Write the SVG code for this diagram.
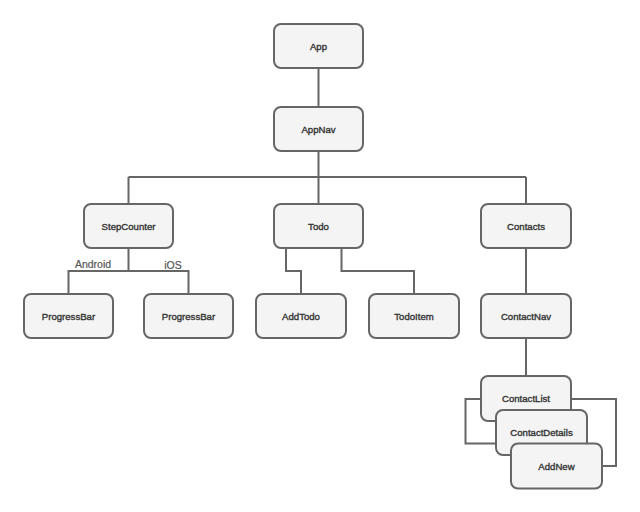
<svg xmlns="http://www.w3.org/2000/svg" width="640" height="512" viewBox="0 0 640 512">
<style>
.n rect{fill:#f4f4f4;stroke:#666;stroke-width:2}
.n text{font-family:"Liberation Sans",Arial,sans-serif;font-size:9.6px;fill:#333;stroke:#333;stroke-width:0.35;text-anchor:middle;dominant-baseline:central}
.c path{fill:none;stroke:#666;stroke-width:2}
.lbl{font-family:"Liberation Sans",Arial,sans-serif;font-size:10.5px;fill:#555;stroke:#555;stroke-width:0.2;text-anchor:middle}
</style>
<rect width="640" height="512" fill="#fff"/>
<g class="c">
<path d="M318.5 68V107"/>
<path d="M318.5 151V177M128.5 177H526M128.5 177V204M318.5 177V204M526 177V204"/>
<path d="M128.5 248V271M68.5 294V271H188.5V294"/>
<path d="M286 248V271H301V294"/>
<path d="M341.5 248V271H414V294"/>
<path d="M526 248V294"/>
<path d="M526 338V376"/>
<path d="M481 399H465.5V443.5H496"/>
<path d="M571 399H616V466H602"/>
</g>
<text class="lbl" x="93" y="268">Android</text>
<text class="lbl" x="173" y="269">iOS</text>
<g id="App" class="n"><rect x="274" y="24" width="89" height="44" rx="7"/><text x="318.5" y="46">App</text></g>
<g id="AppNav" class="n"><rect x="274" y="107" width="89" height="44" rx="7"/><text x="318.5" y="129">AppNav</text></g>
<g id="StepCounter" class="n"><rect x="84" y="204" width="89" height="44" rx="7"/><text x="128.5" y="226">StepCounter</text></g>
<g id="Todo" class="n"><rect x="274" y="204" width="89" height="44" rx="7"/><text x="318.5" y="226">Todo</text></g>
<g id="Contacts" class="n"><rect x="481" y="204" width="90" height="44" rx="7"/><text x="526" y="226">Contacts</text></g>
<g id="ProgressBar1" class="n"><rect x="24" y="294" width="89" height="44" rx="7"/><text x="68.5" y="316">ProgressBar</text></g>
<g id="ProgressBar2" class="n"><rect x="144" y="294" width="89" height="44" rx="7"/><text x="188.5" y="316">ProgressBar</text></g>
<g id="AddTodo" class="n"><rect x="256" y="294" width="90" height="44" rx="7"/><text x="301" y="316">AddTodo</text></g>
<g id="TodoItem" class="n"><rect x="369" y="294" width="90" height="44" rx="7"/><text x="414" y="316">TodoItem</text></g>
<g id="ContactNav" class="n"><rect x="481" y="294" width="90" height="44" rx="7"/><text x="526" y="316">ContactNav</text></g>
<g id="ContactList" class="n"><rect x="481" y="376" width="90" height="45" rx="7"/><text x="526" y="398">ContactList</text></g>
<g id="ContactDetails" class="n"><rect x="496" y="410" width="91" height="45" rx="7"/><text x="541.5" y="432">ContactDetails</text></g>
<g id="AddNew" class="n"><rect x="511" y="443.5" width="91" height="45" rx="7"/><text x="556.5" y="466">AddNew</text></g>
</svg>
